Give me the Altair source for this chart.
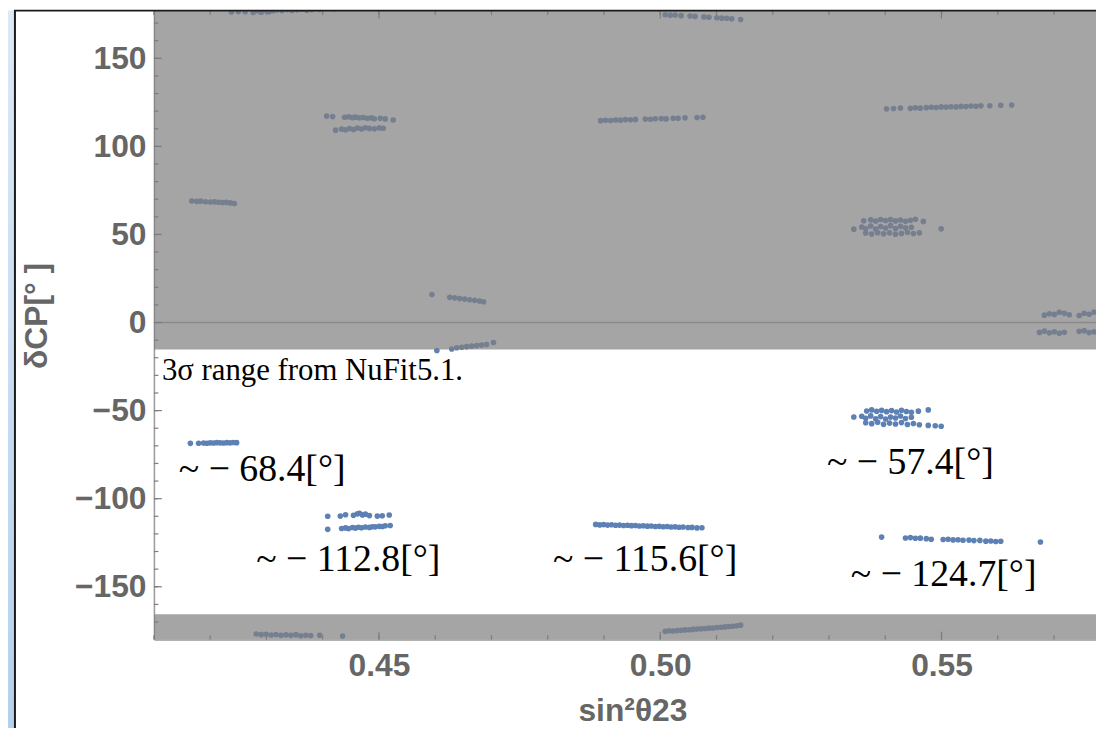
import altair as alt
import pandas as pd

# ---------------- data ----------------
# each cluster: sin^2(theta23) values and deltaCP [deg] values
A_x = [0.42377, 0.42500, 0.42624, 0.42765, 0.42836, 0.42906, 0.42977, 0.43047, 0.43118, 0.43189,
       0.43277, 0.43365, 0.43453, 0.43541, 0.43630, 0.43718, 0.43806, 0.43947, 0.44194]
A_d = [176.3, 176.6, 176.4, 176.0, 177.0, 176.2, 177.2, 176.4, 177.0, 177.4,
       177.1, 177.6, 177.2, 177.5, 177.7, 177.3, 177.6, 177.8, 178.1]

B_x = [0.41671, 0.41759, 0.41830, 0.41918, 0.42006, 0.42077, 0.42147, 0.42218, 0.42289, 0.42359, 0.42430]
B_d = [69.0, 68.8, 68.9, 68.6, 68.4, 68.5, 68.3, 68.1, 68.2, 67.9, 67.6]

C_x = [0.41648, 0.41794, 0.41882, 0.41941, 0.42001, 0.42059, 0.42117, 0.42177, 0.42235, 0.42294,
       0.42354, 0.42412, 0.42470]
C_d = [-68.6, -68.5, -68.4, -68.5, -68.3, -68.4, -68.2, -68.3, -68.4, -68.2, -68.3, -68.1, -68.2]

D1_x = [0.44089, 0.44313, 0.44406, 0.44547, 0.44618, 0.44653, 0.44706, 0.44759, 0.44830, 0.44971,
        0.45059, 0.45183]
D1_d = [-110.0, -109.9, -109.1, -109.4, -108.6, -108.3, -109.2, -108.8, -109.6, -109.9, -109.7, -109.3]
D2_x = [0.44089, 0.44336, 0.44406, 0.44459, 0.44530, 0.44583, 0.44635, 0.44689, 0.44759, 0.44830,
        0.44883, 0.44936, 0.45006, 0.45059, 0.45112, 0.45200]
D2_d = [-117.4, -116.9, -116.6, -117.0, -116.4, -116.7, -116.2, -116.5, -116.1, -116.3,
        -115.9, -116.0, -115.7, -115.8, -115.4, -115.2]

H1_x = [0.44071, 0.44177, 0.44389, 0.44459, 0.44530, 0.44583, 0.44653, 0.44724, 0.44794, 0.44865,
        0.44918, 0.45024, 0.45112, 0.45253]
H1_d = [117.2, 116.9, 116.5, 116.8, 116.3, 116.6, 116.2, 116.4, 116.0, 116.2, 115.7, 115.9, 115.6, 115.0]
H2_x = [0.44230, 0.44336, 0.44406, 0.44477, 0.44547, 0.44618, 0.44689, 0.44759, 0.44830, 0.44918,
        0.45006, 0.45077]
H2_d = [109.2, 109.8, 109.4, 110.1, 109.6, 110.4, 109.9, 110.6, 110.2, 110.0, 110.5, 110.3]

E_x = [0.48853, 0.48924, 0.48994, 0.49065, 0.49135, 0.49206, 0.49276, 0.49347, 0.49418, 0.49488,
       0.49559, 0.49629, 0.49700, 0.49771, 0.49841, 0.49912, 0.49982, 0.50053, 0.50124, 0.50194,
       0.50265, 0.50335, 0.50406, 0.50494, 0.50565, 0.50653, 0.50741]
E_d = [-114.6, -114.9, -114.7, -115.0, -114.8, -115.1, -115.0, -115.2, -115.1, -115.3,
       -115.2, -115.5, -115.4, -115.6, -115.5, -115.8, -115.7, -115.9, -115.8, -116.1,
       -116.0, -116.2, -116.1, -116.4, -116.3, -116.6, -116.5]

I_x = [0.48941, 0.49029, 0.49118, 0.49206, 0.49294, 0.49382, 0.49471, 0.49559, 0.49735, 0.49824,
       0.49912, 0.50018, 0.50106, 0.50229, 0.50318, 0.50441, 0.50653, 0.50759]
I_d = [114.6, 114.8, 114.7, 115.0, 114.9, 115.2, 115.1, 115.3, 115.5, 115.4,
       115.7, 115.8, 115.6, 116.0, 115.9, 116.2, 116.4, 116.5]

J_x = [0.50088, 0.50176, 0.50265, 0.50371, 0.50529, 0.50618, 0.50776, 0.50865, 0.51006, 0.51094,
       0.51182, 0.51271, 0.51429]
J_d = [174.7, 174.5, 174.6, 174.2, 174.0, 173.8, 173.5, 173.3, 173.0, 172.8, 172.7, 172.4, 172.0]

O_x = [0.50088, 0.50159, 0.50229, 0.50300, 0.50371, 0.50441, 0.50512, 0.50582, 0.50653, 0.50723,
       0.50794, 0.50865, 0.50935, 0.51006, 0.51076, 0.51147, 0.51218, 0.51288, 0.51359, 0.51429]
O_d = [-175.3, -175.0, -175.1, -174.8, -174.7, -174.5, -174.4, -174.2, -174.0, -173.9,
       -173.7, -173.5, -173.4, -173.1, -173.0, -172.8, -172.6, -172.4, -172.1, -171.8]

N_x = [0.42818, 0.42906, 0.42994, 0.43083, 0.43171, 0.43259, 0.43347, 0.43435, 0.43524, 0.43612,
       0.43700, 0.43788, 0.43947, 0.44353]
N_d = [-176.8, -177.2, -177.0, -177.4, -177.1, -177.5, -177.3, -177.6, -177.2, -177.8,
       -177.5, -177.7, -177.6, -178.0]

F1_x = [0.53670, 0.53759, 0.53847, 0.53935, 0.54023, 0.54112, 0.54200, 0.54288, 0.54376, 0.54464,
        0.54588, 0.54764]
F1_d = [-50.2, -49.6, -50.4, -49.9, -50.6, -50.0, -50.8, -49.8, -50.5, -51.0, -50.3, -49.6]
F2_x = [0.53441, 0.53582, 0.53653, 0.53741, 0.53829, 0.53917, 0.54006, 0.54094, 0.54182, 0.54270,
        0.54359, 0.54464]
F2_d = [-53.6, -53.2, -54.4, -53.0, -54.6, -53.4, -54.8, -53.7, -54.2, -53.1, -54.5, -53.8]
F3_x = [0.53653, 0.53759, 0.53865, 0.53970, 0.54076, 0.54182, 0.54288, 0.54394, 0.54500, 0.54606,
        0.54764, 0.54888, 0.54994]
F3_d = [-56.9, -57.4, -56.6, -57.8, -57.1, -57.6, -56.8, -57.9, -57.3, -58.0, -58.4, -58.6, -58.9]

K1_x = [0.53617, 0.53741, 0.53829, 0.53917, 0.54006, 0.54094, 0.54182, 0.54270, 0.54359, 0.54447,
        0.54535, 0.54676]
K1_d = [57.8, 58.3, 57.6, 58.5, 57.9, 58.4, 57.7, 58.2, 57.5, 58.0, 58.6, 57.4]
K2_x = [0.53441, 0.53582, 0.53653, 0.53741, 0.53829, 0.53917, 0.54006, 0.54094, 0.54182, 0.54270,
        0.54359, 0.54464, 0.54994]
K2_d = [53.0, 54.2, 53.4, 54.8, 53.1, 54.5, 53.6, 55.0, 53.3, 54.6, 53.8, 54.1, 53.2]
K3_x = [0.53653, 0.53759, 0.53865, 0.53970, 0.54076, 0.54182, 0.54288, 0.54394, 0.54500, 0.54606]
K3_d = [50.8, 50.2, 51.0, 50.4, 50.9, 50.1, 50.6, 51.2, 50.5, 50.9]

G_x = [0.53935, 0.54359, 0.54447, 0.54535, 0.54623, 0.54729, 0.54817, 0.55029, 0.55117, 0.55206,
       0.55294, 0.55382, 0.55488, 0.55576, 0.55682, 0.55788, 0.55876, 0.55964, 0.56053, 0.56758]
G_d = [-121.8, -122.3, -122.1, -122.5, -122.4, -122.7, -123.0, -123.2, -123.0, -123.4,
       -123.3, -123.6, -123.5, -123.8, -123.7, -124.1, -124.0, -124.3, -124.2, -124.6]

L_x = [0.54023, 0.54147, 0.54270, 0.54447, 0.54535, 0.54623, 0.54729, 0.54817, 0.54906, 0.54994,
       0.55082, 0.55170, 0.55259, 0.55347, 0.55435, 0.55523, 0.55612, 0.55700, 0.55858, 0.56053, 0.56247]
L_d = [121.3, 121.5, 121.8, 121.6, 121.9, 121.7, 122.0, 122.2, 122.1, 122.4,
       122.3, 122.5, 122.4, 122.7, 122.6, 122.9, 122.8, 123.0, 123.1, 123.3, 123.5]

M1_x = [0.45941, 0.46259, 0.46347, 0.46436, 0.46524, 0.46612, 0.46700, 0.46788, 0.46859]
M1_d = [15.9, 14.3, 14.0, 13.6, 13.3, 12.9, 12.6, 12.2, 11.8]
M2_x = [0.46030, 0.46294, 0.46383, 0.46471, 0.46559, 0.46647, 0.46736, 0.46824, 0.46912, 0.47035]
M2_d = [-15.9, -15.0, -14.3, -14.0, -13.7, -13.4, -13.1, -12.8, -12.5, -11.3]

P1_x = [0.56829, 0.56917, 0.57006, 0.57094, 0.57182, 0.57270, 0.57447, 0.57535, 0.57623, 0.57711]
P1_d = [4.2, 5.0, 4.6, 5.8, 5.2, 4.4, 4.0, 5.3, 4.7, 5.9]
P2_x = [0.56741, 0.56829, 0.56917, 0.57006, 0.57094, 0.57182, 0.57447, 0.57535, 0.57623, 0.57711]
P2_d = [-5.6, -4.9, -5.8, -5.2, -6.1, -5.5, -5.0, -4.6, -5.7, -5.3]

CLUSTERS = [(A_x, A_d), (B_x, B_d), (C_x, C_d), (D1_x, D1_d), (D2_x, D2_d), (H1_x, H1_d),
            (H2_x, H2_d), (E_x, E_d), (I_x, I_d), (J_x, J_d), (O_x, O_d), (N_x, N_d),
            (F1_x, F1_d), (F2_x, F2_d), (F3_x, F3_d), (K1_x, K1_d), (K2_x, K2_d), (K3_x, K3_d),
            (G_x, G_d), (L_x, L_d), (M1_x, M1_d), (M2_x, M2_d), (P1_x, P1_d), (P2_x, P2_d)]

# shaded (excluded) deltaCP bands
BAND_LO = [-15.3, -180.0]
BAND_HI = [180.0, -165.6]

# annotations
ANN_TEXT = ["~ − 68.4[°]", "~ − 112.8[°]", "~ − 115.6[°]", "~ − 57.4[°]", "~ − 124.7[°]"]
ANN_S = [0.41442, 0.42818, 0.48094, 0.52965, 0.53388]
ANN_D = [-90.1, -141.3, -141.3, -85.8, -149.8]
NOTE_TEXT = ["3σ range from NuFit5.1."]
NOTE_S = [0.41142]
NOTE_D = [-32.9]

# axis ticks
X_LABELS = [0.45, 0.50, 0.55]
X_MINOR = [0.41, 0.42, 0.43, 0.44, 0.45, 0.46, 0.47, 0.48, 0.49, 0.50, 0.51, 0.52, 0.53, 0.54,
           0.55, 0.56, 0.57]
Y_LABELS = [-150, -100, -50, 0, 50, 100, 150]
Y_MINOR = [-170, -160, -150, -140, -130, -120, -110, -100, -90, -80, -70, -60, -50, -40, -30, -20,
           -10, 0, 10, 20, 30, 40, 50, 60, 70, 80, 90, 100, 110, 120, 130, 140, 150, 160, 170]
ZERO = [0]

X_DOMAIN = [0.41, 0.57746]
Y_DOMAIN = [-180, 177.07]

# ---------------- chart ----------------
W, H = 949, 633.6
GRAY = "#666666"
TICK = "#7d7d7d"

rows_s, rows_d = [], []
for xs, ds in CLUSTERS:
    rows_s.extend(xs)
    rows_d.extend(ds)
pts = pd.DataFrame({"s": rows_s, "d": rows_d})

xscale = alt.Scale(domain=X_DOMAIN, nice=False, zero=False)
yscale = alt.Scale(domain=Y_DOMAIN, nice=False, zero=False)

xaxis = alt.Axis(values=X_LABELS, format=".2f", title="sin²θ23", ticks=False, tickSize=0,
                 grid=False, domainColor="#9a9a9a", domainWidth=1.5,
                 labelFont="Liberation Sans", labelFontWeight="bold", labelFontSize=32,
                 labelColor=GRAY, labelPadding=11, labelFlush=False,
                 titleFont="Liberation Sans", titleFontWeight="bold", titleFontSize=32,
                 titleColor=GRAY, titleX=482, titleY=81, titleBaseline="alphabetic",
                 titleAlign="center")
yaxis = alt.Axis(values=Y_LABELS, title="δCP[° ]", ticks=False, tickSize=0, grid=False,
                 domainColor="#9a9a9a", domainWidth=1.5,
                 labelFont="Liberation Sans", labelFontWeight="bold", labelFontSize=32,
                 labelColor=GRAY, labelPadding=8, labelFlush=False,
                 titleFont="Liberation Sans", titleFontWeight="bold", titleFontSize=32,
                 titleColor=GRAY, titleX=-118, titleY=307, titleAngle=270,
                 titleBaseline="middle", titleAlign="center")

points = alt.Chart(pts).mark_circle(color="#5E81B5", size=32, opacity=1, clip=True).encode(
    x=alt.X("s:Q", scale=xscale, axis=xaxis),
    y=alt.Y("d:Q", scale=yscale, axis=yaxis),
)

bands = alt.Chart(pd.DataFrame({"d": BAND_LO, "d2": BAND_HI})).mark_rect(
    color="#7f7f7f", opacity=0.7, clip=True
).encode(x=alt.value(0), x2=alt.value(W), y="d:Q", y2="d2:Q")

zero = alt.Chart(pd.DataFrame({"d": ZERO})).mark_rule(color="#8a8a8a", strokeWidth=1.5).encode(
    y="d:Q", x=alt.value(0), x2=alt.value(W)
)


def xticks(vals, y0, y1):
    return alt.Chart(pd.DataFrame({"s": vals})).mark_rule(color=TICK, strokeWidth=1.2).encode(
        x="s:Q", y=alt.value(y0), y2=alt.value(y1))


def yticks(vals, x0, x1):
    return alt.Chart(pd.DataFrame({"d": vals})).mark_rule(color=TICK, strokeWidth=1.2).encode(
        y="d:Q", x=alt.value(x0), x2=alt.value(x1))


ticks = [
    xticks(X_MINOR, H, H - 4.5), xticks(X_LABELS, H, H - 8),
    xticks(X_MINOR, 0, 4.5), xticks(X_LABELS, 0, 8),
    yticks(Y_MINOR, 0, 4.5), yticks(Y_LABELS, 0, 8),
]

ann = alt.Chart(pd.DataFrame({"s": ANN_S, "d": ANN_D, "t": ANN_TEXT})).mark_text(
    align="left", baseline="alphabetic", font="Liberation Serif", fontSize=38, color="black"
).encode(x="s:Q", y="d:Q", text="t:N")

note = alt.Chart(pd.DataFrame({"s": NOTE_S, "d": NOTE_D, "t": NOTE_TEXT})).mark_text(
    align="left", baseline="alphabetic", font="Liberation Serif", fontSize=31, color="black"
).encode(x="s:Q", y="d:Q", text="t:N")

# window frame decoration (blue strip + black border)
one = pd.DataFrame({"k": [0]})
strip = alt.Chart(one).mark_rect(
    color=alt.Gradient(gradient="linear",
                       stops=[alt.GradientStop(color="#dce9f6", offset=0),
                              alt.GradientStop(color="#b5d0ee", offset=1)],
                       x1=0, x2=0, y1=0, y2=1)
).encode(x=alt.value(-147), x2=alt.value(-141), y=alt.value(0), y2=alt.value(H + 90))
vline = alt.Chart(one).mark_rule(color="#1a1a1a", strokeWidth=2).encode(
    x=alt.value(-140), y=alt.value(0), y2=alt.value(H + 90))
hline = alt.Chart(one).mark_rule(color="#1a1a1a", strokeWidth=2).encode(
    y=alt.value(0), x=alt.value(-141), x2=alt.value(W))

chart = alt.layer(points, bands, zero, *ticks, ann, note, strip, vline, hline).properties(
    width=W, height=H,
    autosize=alt.AutoSizeParams(type="none"),
    padding={"left": 147, "top": 0, "right": 0, "bottom": 86},
    background="white",
).configure_view(stroke=None)

chart.save("out.html", embed_options={"renderer": "svg", "actions": False})
